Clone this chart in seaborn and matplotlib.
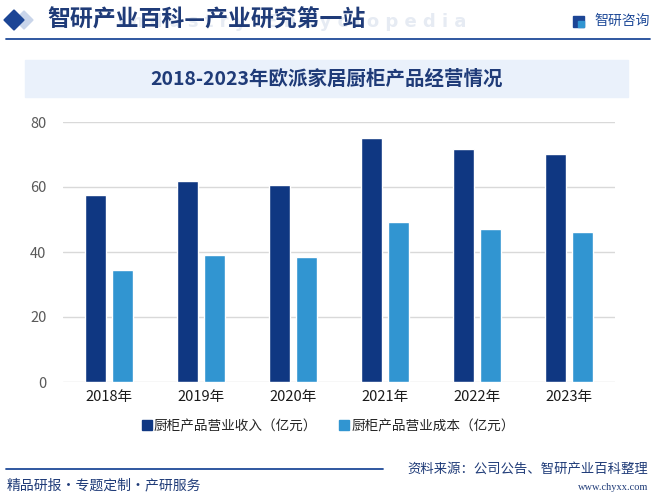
import matplotlib
matplotlib.use("Agg")
import matplotlib.pyplot as plt
import seaborn as sns
import pandas as pd
from matplotlib.patches import Polygon, Rectangle
from matplotlib.lines import Line2D

years = ["2018年", "2019年", "2020年", "2021年", "2022年", "2023年"]
income = [57.5, 61.8, 60.6, 75.1, 71.7, 70.2]
cost = [34.5, 39.1, 38.5, 49.2, 47.1, 46.2]
series_names = ["厨柜产品营业收入（亿元）", "厨柜产品营业成本（亿元）"]
yticks = [0, 20, 40, 60, 80]
colors = ["#0F3782", "#3195D1"]

title = "2018-2023年欧派家居厨柜产品经营情况"
header = "智研产业百科—产业研究第一站"

df = pd.DataFrame({
    "year": years * 2,
    "value": income + cost,
    "series": [series_names[0]] * len(years) + [series_names[1]] * len(years),
})

sns.set_theme(style="white")
plt.rcParams["font.family"] = ["Noto Sans CJK SC", "DejaVu Sans"]

W, H = 661, 500
fig = plt.figure(figsize=(W / 100, H / 100), dpi=100)
fig.patch.set_facecolor("white")

def fx(x):
    return x / W

def fy(y):
    return 1 - y / H

ax = fig.add_axes([fx(63), fy(382), fx(615) - fx(63), fy(122) - fy(382)])
sns.barplot(data=df, x="year", y="value", hue="series", palette=colors,
            width=0.576, gap=0.226, ax=ax, legend=False, saturation=1)
ax.set_ylim(0, 80)
ax.set_yticks(yticks)
ax.set_xlim(-0.5, len(years) - 0.5)
ax.yaxis.grid(True, color="#D9D9D9", lw=1)
ax.set_axisbelow(True)
for s in ax.spines.values():
    s.set_visible(False)
ax.tick_params(axis="both", length=0)
ax.tick_params(axis="y", colors="#595959", labelsize=10.5, pad=12)
ax.tick_params(axis="x", colors="#1a1a1a", labelsize=10.5, pad=6)
ax.set_xlabel("")
ax.set_ylabel("")

handles = [Line2D([0], [0], marker="s", linestyle="", markersize=6.5,
                  markerfacecolor=c, markeredgecolor=c) for c in colors]
fig.legend(handles, series_names, loc="center", bbox_to_anchor=(fx(328), fy(426)),
           ncol=2, frameon=False, fontsize=9.8, handletextpad=0.1,
           columnspacing=1.6, handlelength=0.8)

# Header
fig.patches.append(Polygon([[fx(24), fy(11)], [fx(33), fy(20)], [fx(24), fy(29)], [fx(15), fy(20)]],
                           closed=True, transform=fig.transFigure, color="#C9D5EA", zorder=1))
fig.patches.append(Polygon([[fx(14), fy(10)], [fx(24), fy(20)], [fx(14), fy(30)], [fx(4), fy(20)]],
                           closed=True, transform=fig.transFigure, color="#1C4595", zorder=2))
fig.text(fx(118), fy(22), "I n d u s t r y   E n c y c l o p e d i a", fontsize=13,
         color="#E6EBF3", ha="left", va="center", zorder=0, family="DejaVu Sans", weight="bold")
fig.text(fx(47), fy(20), header, fontsize=16.5, color="#1F3B78", ha="left", va="center",
         weight="bold", zorder=3)
fig.add_artist(Line2D([fx(6), fx(650)], [fy(38.5), fy(38.5)], color="#1F4A98", lw=1.3,
                      transform=fig.transFigure))
# logo
fig.patches.append(Rectangle((fx(573), fy(27)), fx(11), fy(16) - fy(27),
                             transform=fig.transFigure, color="#1C4595"))
fig.patches.append(Rectangle((fx(578), fy(27)), fx(6), fy(21) - fy(27),
                             transform=fig.transFigure, color="#3195D1"))
fig.text(fx(594), fy(21), "智研咨询", fontsize=10, color="#1F4A98", ha="left", va="center")

# Title band
fig.patches.append(Rectangle((fx(25), fy(97)), fx(628) - fx(25), fy(60) - fy(97),
                             transform=fig.transFigure, color="#EAF1FB", zorder=0))
fig.text(fx(327), fy(79), title, fontsize=14, color="#1F3B78", ha="center", va="center",
         weight="bold")

# Footer
fig.add_artist(Line2D([fx(6), fx(383)], [fy(469), fy(469)], color="#1F4A98", lw=1.3,
                      transform=fig.transFigure))
fig.text(fx(7), fy(485), "精品研报·专题定制·产研服务", fontsize=10, color="#1F3B78",
         ha="left", va="center")
fig.text(fx(648), fy(469), "资料来源：公司公告、智研产业百科整理", fontsize=9.6, color="#1F3B78",
         ha="right", va="center")
fig.text(fx(648), fy(488), "www.chyxx.com", fontsize=7.5, color="#1F3B78",
         ha="right", va="center", family="Liberation Serif")

fig.savefig("out.png", dpi=100, facecolor="white")
